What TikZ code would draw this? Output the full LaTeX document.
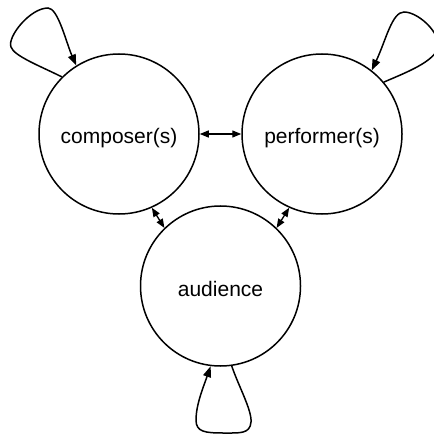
\documentclass[tikz,border=0pt]{standalone}
\usepackage{fontspec}
\setmainfont{Liberation Sans}
\usetikzlibrary{arrows.meta}
\begin{document}
\begin{tikzpicture}[x=1pt,y=-1pt,
  party/.style={circle,draw,line width=1.5pt,minimum size=160pt,inner sep=0pt,
    font=\fontsize{21}{24}\selectfont,text height=20pt,text depth=0pt},
  link/.style={{Triangle[length=9pt,width=7pt]}-{Triangle[length=9pt,width=7pt]},line width=1.3pt},
  selfloop/.style={-{Triangle[length=11pt,width=8pt]},line width=1.5pt}]
\useasboundingbox (0,0) rectangle (433,435);

% the three parties
\node[party] (c) at (119,134) {composer(s)};
\node[party] (p) at (322,134) {performer(s)};
\node[party] (a) at (220.5,286) {audience};

% two-way links between parties
\draw[link] (c.0) -- (p.180);
\draw[link] (c.-66) -- (a.134);
\draw[link] (p.-114) -- (a.46);

% self loops
\draw[selfloop] (c.135) .. controls (40,66) and (14,56) .. (11,47)
  .. controls (7,37) and (30,8) .. (48,8)
  .. controls (58,8) and (66,42) .. (c.122);
\draw[selfloop] (p.40) .. controls (405,73) and (428,64) .. (436,52)
  .. controls (446,38) and (420,12) .. (404,12)
  .. controls (392,12) and (386,40) .. (p.52);
\draw[selfloop] (a.-82) .. controls (238,385) and (252,410) .. (251,422)
  .. controls (250,434) and (240,433) .. (224,433)
  .. controls (205,433) and (196,432) .. (196,420)
  .. controls (196,405) and (203,388) .. (a.-97);
\end{tikzpicture}
\end{document}
